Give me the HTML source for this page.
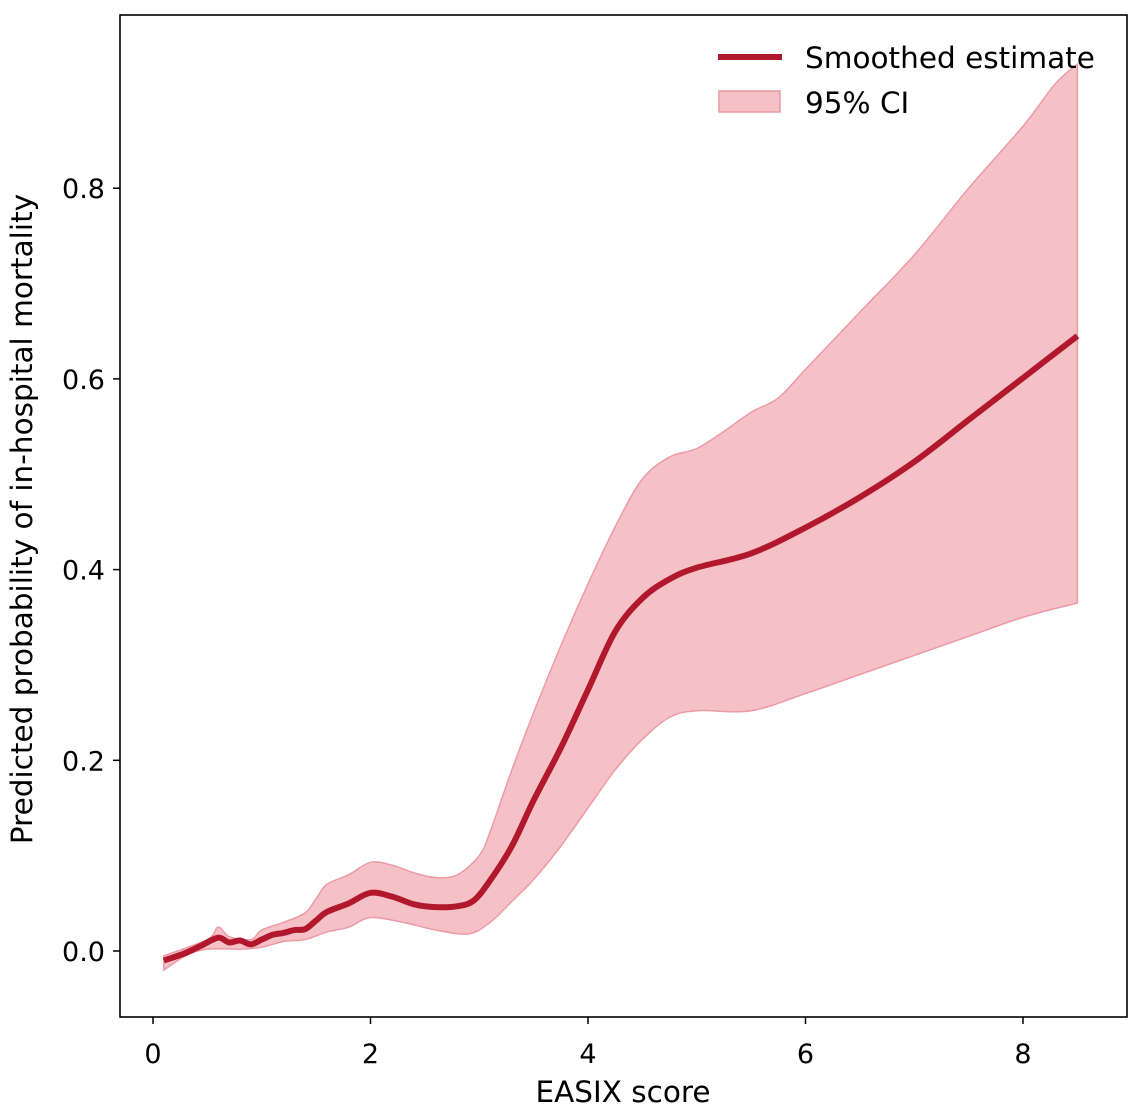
<!DOCTYPE html>
<html><head><meta charset="utf-8"><style>
html,body{margin:0;padding:0;background:#fff}
svg{display:block;font-family:"DejaVu Sans","Liberation Sans",sans-serif}
</style></head><body>
<svg id="chart" width="1136" height="1110">
<rect x="120" y="15" width="1007" height="1002" fill="#fff" stroke="#000" stroke-width="1.6"/>
<g id="band"></g>
<g id="line"></g>
<g id="axes"></g>
<text x="623" y="1102" font-size="29.5" text-anchor="middle">EASIX score</text>
<text transform="translate(32,519) rotate(-90)" font-size="29.5" text-anchor="middle">Predicted probability of in-hospital mortality</text>
<g>
<line x1="718" y1="57" x2="782" y2="57" stroke="#b2182b" stroke-width="6"/>
<text x="805" y="68" font-size="29.5">Smoothed estimate</text>
<rect x="719" y="91" width="61" height="21" fill="#f4b6bc" fill-opacity="0.85" stroke="#ec9aa3" stroke-width="1.5"/>
<text x="805" y="113" font-size="29.5">95% CI</text>
</g>
</svg>
<script>
const estX=[0.1,0.3,0.45,0.6,0.7,0.8,0.9,1.0,1.1,1.2,1.3,1.4,1.5,1.6,1.8,2.0,2.2,2.4,2.6,2.8,2.95,3.1,3.3,3.5,3.75,4.0,4.25,4.5,4.75,5.0,5.5,6.0,6.5,7.0,7.5,8.0,8.5];
const estY=[-0.01,-0.002,0.006,0.014,0.009,0.011,0.007,0.012,0.017,0.019,0.022,0.023,0.032,0.041,0.05,0.061,0.057,0.049,0.046,0.047,0.053,0.074,0.11,0.158,0.213,0.274,0.335,0.37,0.39,0.402,0.417,0.444,0.476,0.513,0.557,0.601,0.645];
const upX=[0.1,0.5,0.6,0.7,0.9,1.0,1.2,1.4,1.5,1.6,1.8,2.0,2.2,2.4,2.6,2.8,3.0,3.1,3.3,3.5,3.75,4.0,4.25,4.5,4.75,5.0,5.25,5.5,5.75,6.0,6.5,7.0,7.5,8.0,8.3,8.5];
const upY=[-0.005,0.012,0.025,0.015,0.012,0.022,0.03,0.04,0.055,0.07,0.08,0.093,0.09,0.082,0.077,0.08,0.1,0.125,0.19,0.25,0.32,0.385,0.445,0.495,0.518,0.527,0.545,0.565,0.58,0.61,0.67,0.73,0.8,0.865,0.91,0.93];
const loX=[0.1,0.3,0.5,0.8,1.0,1.2,1.4,1.6,1.8,2.0,2.3,2.6,2.9,3.1,3.3,3.5,3.75,4.0,4.25,4.5,4.75,5.0,5.5,6.0,6.5,7.0,7.5,8.0,8.5];
const loY=[-0.02,-0.005,0.002,0.002,0.004,0.01,0.012,0.02,0.025,0.035,0.03,0.022,0.018,0.03,0.052,0.075,0.11,0.15,0.19,0.222,0.245,0.252,0.252,0.27,0.29,0.31,0.33,0.35,0.365];
const xTicks=[0,2,4,6,8];
const yTicks=[0.0,0.2,0.4,0.6,0.8];
const NS='http://www.w3.org/2000/svg';
function sx(v){return 153+v*108.75;}
function sy(v){return 951-v*953.5;}
function mk(t,a){const e=document.createElementNS(NS,t);for(const k in a)e.setAttribute(k,a[k]);return e;}
function smooth(P,start){
  let d=start?('M'+P[0][0]+','+P[0][1]):('L'+P[0][0]+','+P[0][1]);
  for(let i=0;i<P.length-1;i++){
    const p0=P[i-1]||P[i],p1=P[i],p2=P[i+1],p3=P[i+2]||P[i+1];
    const c1=[p1[0]+(p2[0]-p0[0])/6,p1[1]+(p2[1]-p0[1])/6];
    const c2=[p2[0]-(p3[0]-p1[0])/6,p2[1]-(p3[1]-p1[1])/6];
    d+=' C'+c1[0]+','+c1[1]+' '+c2[0]+','+c2[1]+' '+p2[0]+','+p2[1];
  }
  return d;
}
const up=upX.map((x,i)=>[sx(x),sy(upY[i])]);
const lo=loX.map((x,i)=>[sx(x),sy(loY[i])]).reverse();
const band=mk('path',{d:smooth(up,true)+' '+smooth(lo,false)+' Z',fill:'#f4b6bc','fill-opacity':'0.85',stroke:'#ec9aa3','stroke-width':'1.5'});


document.getElementById('band').appendChild(band);
const lp=mk('path',{d:smooth(estX.map((x,i)=>[sx(x),sy(estY[i])]),true),fill:'none',stroke:'#b2182b','stroke-width':'6','stroke-linejoin':'round'});


document.getElementById('line').appendChild(lp);
const ax=document.getElementById('axes');
xTicks.forEach(v=>{
  const l=mk('line',{x1:sx(v),x2:sx(v),y1:1017,y2:1024,stroke:'#000','stroke-width':'1.5'});
  
  
  ax.appendChild(l);
  const t=mk('text',{x:sx(v),y:1063,'font-size':'27','text-anchor':'middle'});
  t.textContent=v;
  
  
  ax.appendChild(t);
});
yTicks.forEach(v=>{
  const l=mk('line',{x1:113,x2:120,y1:sy(v),y2:sy(v),stroke:'#000','stroke-width':'1.5'});
  
  
  ax.appendChild(l);
  const t=mk('text',{x:105,y:sy(v)+10,'font-size':'27','text-anchor':'end'});
  t.textContent=v.toFixed(1);
  
  
  ax.appendChild(t);
});
</script>
</body></html>
